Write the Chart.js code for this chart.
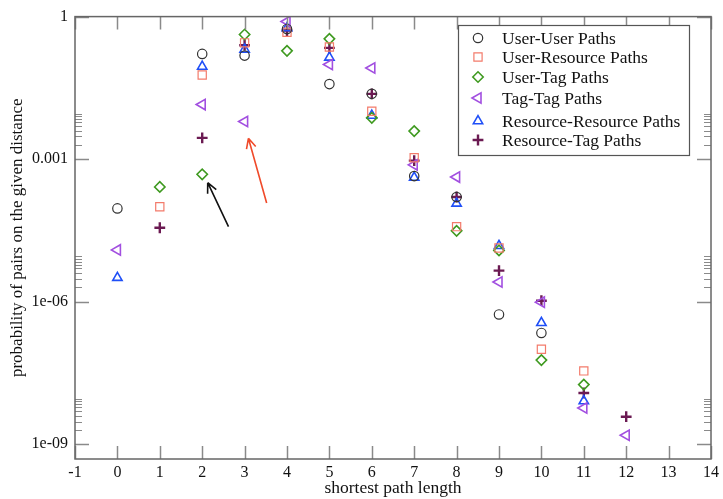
<!DOCTYPE html>
<html>
<head>
<meta charset="utf-8">
<script src="https://cdn.jsdelivr.net/npm/chart.js@4.4.0/dist/chart.umd.min.js"></script>
<style>
  html, body { margin: 0; padding: 0; background: #fff; }
  #wrap { width: 723px; height: 499px; }
</style>
</head>
<body>
<div id="wrap"><canvas id="pathChart" width="723" height="499"></canvas></div>
<script>
// shortest path length on the x axis
const distances = [0, 1, 2, 3, 4, 5, 6, 7, 8, 9, 10, 11, 12];

// probability of pairs at each distance (null = no pairs)
const userUser = [9.2e-5, null, 0.164, 0.151, 0.55, 0.038, 0.0237, 4.4e-4, 1.6e-4, 5.4e-7, 2.2e-7, null, null];
const userResource = [null, 1.0e-4, 0.059, 0.28, 0.47, 0.23, 0.0102, 1.07e-3, 3.8e-5, 1.35e-5, 1.0e-7, 3.5e-8, null];
const userTag = [null, 2.6e-4, 4.8e-4, 0.42, 0.19, 0.34, 7.4e-3, 3.9e-3, 3.1e-5, 1.2e-5, 5.9e-8, 1.8e-8, null];
const tagTag = [1.23e-5, null, 0.0141, 6.2e-3, 0.79, 0.098, 0.083, 7.6e-4, 4.2e-4, 2.6e-6, 9.8e-7, 5.8e-9, 1.55e-9];
const resourceResource = [3.2e-6, null, 0.089, 0.204, 0.575, 0.138, 8.3e-3, 4.1e-4, 1.17e-4, 1.5e-5, 3.6e-7, 8.1e-9, null];
const resourceTag = [null, 3.6e-5, 2.8e-3, 0.25, 0.51, 0.22, 0.0237, 9.3e-4, 1.6e-4, 4.5e-6, 1.05e-6, 1.2e-8, 3.8e-9];

// y axis range and labelled ticks
const yMin = Math.pow(10, -9.31);
const yMax = 1;
const yTicks = [1e-9, 1e-6, 1e-3, 1];
const yTickLabels = ['1e-09', '1e-06', '0.001', '1'];

// arrows pointing at the low points at distance 2 and 3
const arrows = [
    { from: [2.62, 3.8e-5], to: [2.13, 3.2e-4], color: '#111111' },
    { from: [3.52, 1.2e-4], to: [3.09, 2.75e-3], color: '#f04a2a' }
];

const serif = "'Liberation Serif', 'DejaVu Serif', 'Times New Roman', serif";

function toPoints(values) {
    const pts = [];
    values.forEach((v, i) => {
        if (v !== null) pts.push({ x: distances[i], y: v });
    });
    return pts;
}

const series = [
    { label: 'User-User Paths', values: userUser, color: '#333333', style: 'circle', radius: 4.7, width: 1.2, rotation: 0 },
    { label: 'User-Resource Paths', values: userResource, color: '#f37b6b', style: 'rect', radius: 5.8, width: 1.2, rotation: 0 },
    { label: 'User-Tag Paths', values: userTag, color: '#3f9a20', style: 'rectRot', radius: 5.2, width: 1.6, rotation: 0 },
    { label: 'Tag-Tag Paths', values: tagTag, color: '#a24fe0', style: 'triangle', radius: 6, width: 1.6, rotation: -90 },
    { label: 'Resource-Resource Paths', values: resourceResource, color: '#1f4ff7', style: 'triangle', radius: 5.4, width: 1.6, rotation: 0 },
    { label: 'Resource-Tag Paths', values: resourceTag, color: '#6b1a52', style: 'cross', radius: 5.4, width: 2.4, rotation: 0 }
];

// inside tick marks on all four sides, minor ticks after each labelled decade,
// frame, legend box and the two arrows
const decorations = {
    id: 'decorations',
    afterDatasetsDraw(chart) {
        const { ctx, chartArea: a, scales: { x, y } } = chart;
        ctx.save();

        ctx.strokeStyle = '#8a8a8a';
        ctx.lineWidth = 1.5;
        ctx.beginPath();
        for (let v = Math.ceil(x.min); v <= x.max; v++) {
            const px = Math.round(x.getPixelForValue(v)) + 0.5;
            ctx.moveTo(px, a.bottom); ctx.lineTo(px, a.bottom - 13);
            ctx.moveTo(px, a.top); ctx.lineTo(px, a.top + 13);
        }
        yTicks.forEach(v => {
            const py = Math.round(y.getPixelForValue(v)) + 0.5;
            ctx.moveTo(a.left, py); ctx.lineTo(a.left + 14, py);
            ctx.moveTo(a.right, py); ctx.lineTo(a.right - 14, py);
        });
        ctx.stroke();

        ctx.lineWidth = 1;
        ctx.beginPath();
        yTicks.slice(0, 3).forEach(v => {
            for (let k = 2; k <= 9; k++) {
                const py = Math.round(y.getPixelForValue(v * k)) + 0.5;
                ctx.moveTo(a.left, py); ctx.lineTo(a.left + 7, py);
                ctx.moveTo(a.right, py); ctx.lineTo(a.right - 7, py);
            }
        });
        ctx.stroke();

        ctx.strokeStyle = '#666666';
        ctx.lineWidth = 1.5;
        ctx.strokeRect(a.left, a.top, a.right - a.left, a.bottom - a.top);

        // legend
        const lx = 458, ly = 25, lw = 231, lh = 130;
        ctx.fillStyle = '#ffffff';
        ctx.fillRect(lx, ly, lw, lh);
        ctx.strokeStyle = '#555555';
        ctx.lineWidth = 1.2;
        ctx.strokeRect(lx + 0.5, ly + 0.5, lw, lh);
        const rows = [38, 57, 77, 98, 121, 140];
        ctx.font = '17.5px ' + serif;
        ctx.textBaseline = 'middle';
        series.forEach((s, i) => {
            ctx.strokeStyle = s.color;
            ctx.fillStyle = 'rgba(0,0,0,0)';
            ctx.lineWidth = s.width;
            Chart.helpers.drawPoint(ctx, {
                pointStyle: s.style, radius: s.radius, rotation: s.rotation, borderWidth: s.width
            }, 478, rows[i]);
            ctx.fillStyle = '#111111';
            ctx.fillText(s.label, 502, rows[i] + 1);
        });

        // arrows
        arrows.forEach(arw => {
            const x0 = x.getPixelForValue(arw.from[0]), y0 = y.getPixelForValue(arw.from[1]);
            const x1 = x.getPixelForValue(arw.to[0]), y1 = y.getPixelForValue(arw.to[1]);
            const ang = Math.atan2(y1 - y0, x1 - x0);
            ctx.strokeStyle = arw.color;
            ctx.lineWidth = 1.6;
            ctx.beginPath();
            ctx.moveTo(x0, y0); ctx.lineTo(x1, y1);
            for (const d of [-0.45, 0.45]) {
                ctx.moveTo(x1, y1);
                ctx.lineTo(x1 - 11 * Math.cos(ang + d), y1 - 11 * Math.sin(ang + d));
            }
            ctx.stroke();
        });

        ctx.restore();
    }
};

const ctx = document.getElementById('pathChart').getContext('2d');
const pathChart = new Chart(ctx, {
    type: 'scatter',
    data: {
        datasets: series.map(s => ({
            label: s.label,
            data: toPoints(s.values),
            pointStyle: s.style,
            pointRadius: s.radius,
            pointRotation: s.rotation,
            pointBorderWidth: s.width,
            borderColor: s.color,
            backgroundColor: 'rgba(0,0,0,0)',
            pointHoverRadius: s.radius
        }))
    },
    options: {
        responsive: false,
        animation: false,
        layout: { padding: { top: 12, right: 10, left: 0, bottom: 0 } },
        plugins: {
            legend: { display: false },
            tooltip: { enabled: false }
        },
        scales: {
            x: {
                type: 'linear',
                min: -1,
                max: 14,
                grid: { display: false, drawTicks: false, tickLength: 0 },
                border: { display: false },
                ticks: { stepSize: 1, padding: 4, color: '#111', font: { family: serif, size: 16 } },
                title: {
                    display: true,
                    text: 'shortest path length',
                    color: '#111',
                    font: { family: serif, size: 17.5 },
                    padding: { top: 0, bottom: 0 }
                },
                afterFit(scale) { scale.height = 40; }
            },
            y: {
                type: 'logarithmic',
                min: yMin,
                max: yMax,
                grid: { display: false, drawTicks: false, tickLength: 0 },
                border: { display: false },
                afterBuildTicks(scale) {
                    scale.ticks = yTicks.map(v => ({ value: v }));
                },
                ticks: {
                    autoSkip: false,
                    padding: 7,
                    color: '#111',
                    font: { family: serif, size: 16 },
                    callback: function(value) {
                        const i = yTicks.findIndex(t => Math.abs(Math.log10(t) - Math.log10(value)) < 1e-6);
                        return i >= 0 ? yTickLabels[i] : '';
                    }
                },
                title: {
                    display: true,
                    text: 'probability of pairs on the given distance',
                    color: '#111',
                    font: { family: serif, size: 17 },
                    padding: { top: 7, bottom: 0 }
                },
                afterFit(scale) { scale.width = 75; }
            }
        }
    },
    plugins: [decorations]
});
</script>
</body>
</html>
